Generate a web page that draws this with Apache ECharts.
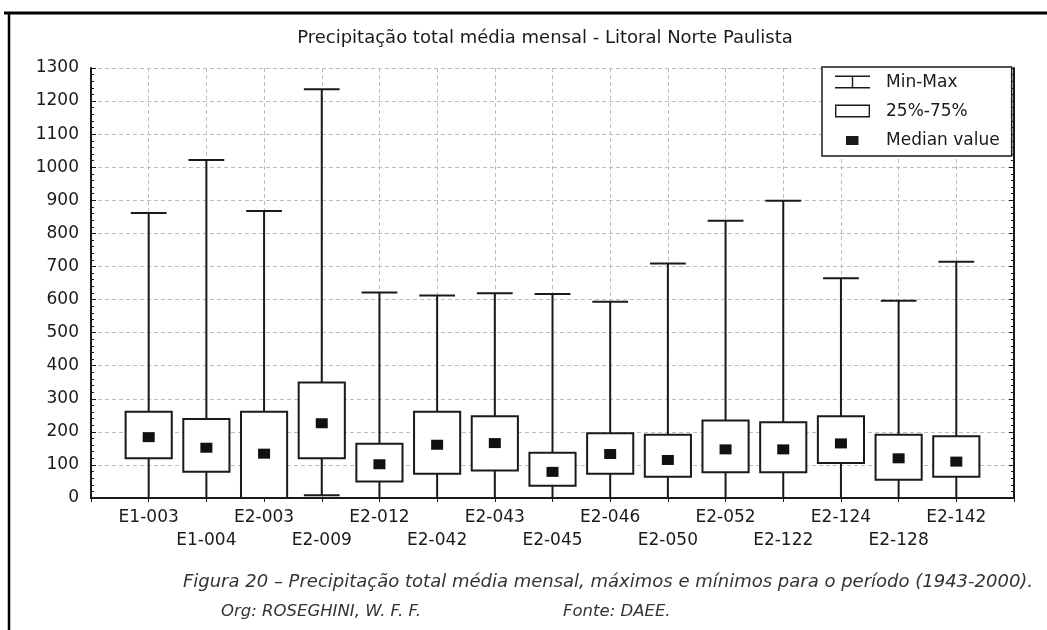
<!DOCTYPE html>
<html>
<head>
<meta charset="utf-8">
<script src="https://cdn.jsdelivr.net/npm/echarts@6/dist/echarts.min.js"></script>
<style>html,body{margin:0;padding:0;background:#fff}#chart{width:1047px;height:630px}</style>
</head>
<body>
<div id="chart"></div>
<script>
const titleText = 'Precipitação total média mensal - Litoral Norte Paulista';
const captionText = 'Figura 20 – Precipitação total média mensal, máximos e mínimos para o período (1943-2000).';
const orgText = 'Org: ROSEGHINI, W. F. F.';
const sourceText = 'Fonte: DAEE.';
const categories = ['E1-003','E1-004','E2-003','E2-009','E2-012','E2-042','E2-043','E2-045','E2-046','E2-050','E2-052','E2-122','E2-124','E2-128','E2-142'];
const minValues    = [0, 0, 0, 8, 0, 0, 0, 0, 0, 0, 0, 0, 0, 0, 0];
const q1Values     = [120, 79, 0, 120, 50, 73, 83, 37, 73, 64, 78, 78, 106, 55, 64];
const medianValues = [184, 152, 134, 226, 102, 161, 166, 79, 133, 115, 147, 147, 165, 120, 110];
const q3Values     = [261, 239, 261, 349, 164, 261, 247, 137, 196, 191, 234, 229, 247, 191, 187];
const maxValues    = [862, 1022, 868, 1236, 621, 612, 619, 617, 593, 709, 838, 899, 664, 596, 714];
const yTicks = {min: 0, max: 1300, interval: 100};

const INK = '#1a1a1a';
const FONT = '"DejaVu Sans", sans-serif';
const axisCats = [''].concat(categories, ['']);

const chart = echarts.init(document.getElementById('chart'), null, {renderer: 'canvas'});

const whiskerData = categories.map((c, i) => [i + 1, minValues[i], maxValues[i]]);
const boxData = categories.map((c, i) => [i + 1, q1Values[i], q3Values[i]]);
const medianData = categories.map((c, i) => [i + 1, medianValues[i]]);

function yAxisCfg(pos, showLabel) {
  return {
    type: 'value', position: pos, min: yTicks.min, max: yTicks.max, interval: yTicks.interval,
    axisLine: {show: true, lineStyle: {color: INK, width: 2}},
    axisTick: {show: true, inside: true, length: 5, lineStyle: {color: INK, width: 1}},
    minorTick: {show: true, splitNumber: 5, length: 3, lineStyle: {color: INK, width: 1}},
    axisLabel: {show: showLabel, color: INK, fontFamily: FONT, fontSize: 17, margin: 12,
                formatter: (v) => String(v)},
    splitLine: {show: showLabel, lineStyle: {color: '#bdbdbd', type: [4, 3], width: 1}}
  };
}

const capStyle = {fontFamily: FONT, fontSize: 16.5, fontStyle: 'italic', fontWeight: 'normal', color: '#333'};

const option = {
  animation: false,
  backgroundColor: '#fff',
  title: [
    {text: titleText, left: 540, top: 24, textAlign: 'center',
     textStyle: {fontFamily: FONT, fontSize: 18, fontWeight: 'normal', color: INK}},
    {text: captionText, left: 603, top: 568, textAlign: 'center',
     textStyle: Object.assign({}, capStyle, {fontSize: 18})},
    {text: orgText, left: 216, top: 598, textStyle: capStyle},
    {text: sourceText, left: 558, top: 598, textStyle: capStyle}
  ],
  grid: {left: 91, right: 33, top: 68, bottom: 132, containLabel: false},
  legend: {
    orient: 'vertical', left: 822, top: 67,
    backgroundColor: '#fff', borderColor: INK, borderWidth: 1.5, borderRadius: 0,
    padding: [7, 12, 7, 13], itemGap: 12, itemWidth: 46, itemHeight: 14,
    selectedMode: false, z: 10,
    textStyle: {fontFamily: FONT, fontSize: 17, color: INK, lineHeight: 17},
    itemStyle: {color: INK, borderWidth: 0},
    data: [
      {name: 'Min-Max', icon: 'path://M0 0M46 14M0 0H35V1.4H0ZM16.8 0H18.2V13H16.8ZM0 11.6H35V13H0Z'},
      {name: '25%-75%', icon: 'path://M0 0M46 14M0 0H35V13H0ZM1.4 1.4V11.6H33.6V1.4Z'},
      {name: 'Median value', icon: 'path://M0 0M46 14M11 2.5H23.5V11.5H11Z'}
    ]
  },
  xAxis: [
    {
      type: 'category', data: axisCats, boundaryGap: false, position: 'bottom',
      axisLine: {show: true, lineStyle: {color: INK, width: 2}},
      axisTick: {show: false},
      axisLabel: {
        interval: 0, color: INK, fontFamily: FONT, fontSize: 17, lineHeight: 23, margin: 8,
        formatter: (v, i) => (i % 2 === 1 ? v : '\n' + v)
      },
      splitLine: {show: true, interval: 0, lineStyle: {color: '#bdbdbd', type: [4, 3], width: 1}}
    },
    {
      type: 'category', data: axisCats, boundaryGap: false, position: 'top',
      axisLine: {show: true, lineStyle: {color: INK, width: 2}},
      axisTick: {show: true, inside: true, length: 4, interval: 0, lineStyle: {color: INK, width: 1}},
      axisLabel: {show: false}, splitLine: {show: false}
    }
  ],
  yAxis: [yAxisCfg('left', true), yAxisCfg('right', false)],
  series: [
    {
      name: 'Min-Max', type: 'custom', xAxisIndex: 0, yAxisIndex: 0,
      itemStyle: {color: INK},
      encode: {x: 0, y: [1, 2]},
      data: whiskerData,
      renderItem: function (params, api) {
        const x = api.value(0);
        const lo = api.coord([x, api.value(1)]);
        const hi = api.coord([x, api.value(2)]);
        const bw = api.size([1, 0])[0];
        const cw = bw * 0.62;
        const st = {stroke: INK, lineWidth: 2};
        return {type: 'group', children: [
          {type: 'line', shape: {x1: lo[0], y1: lo[1], x2: hi[0], y2: hi[1]}, style: st},
          {type: 'line', shape: {x1: hi[0] - cw / 2, y1: hi[1], x2: hi[0] + cw / 2, y2: hi[1]}, style: st},
          {type: 'line', shape: {x1: lo[0] - cw / 2, y1: lo[1], x2: lo[0] + cw / 2, y2: lo[1]}, style: st}
        ]};
      }
    },
    {
      name: '25%-75%', type: 'custom', xAxisIndex: 0, yAxisIndex: 0,
      itemStyle: {color: INK},
      encode: {x: 0, y: [1, 2]},
      data: boxData,
      renderItem: function (params, api) {
        const x = api.value(0);
        const lo = api.coord([x, api.value(1)]);
        const hi = api.coord([x, api.value(2)]);
        const bw = api.size([1, 0])[0] * 0.8;
        return {type: 'rect',
          shape: {x: lo[0] - bw / 2, y: hi[1], width: bw, height: lo[1] - hi[1]},
          style: {fill: '#fff', stroke: INK, lineWidth: 2}};
      }
    },
    {
      name: 'Median value', type: 'scatter', xAxisIndex: 0, yAxisIndex: 0,
      symbol: 'rect', symbolSize: [12, 10],
      itemStyle: {color: '#111', opacity: 1},
      data: medianData, z: 5
    }
  ],
  graphic: [
    {type: 'line', shape: {x1: 4, y1: 13, x2: 1047, y2: 13}, style: {stroke: '#000', lineWidth: 3}, z: 100},
    {type: 'line', shape: {x1: 9, y1: 12, x2: 9, y2: 630}, style: {stroke: '#000', lineWidth: 2.5}, z: 100}
  ]
};
chart.setOption(option);
</script>
</body>
</html>
